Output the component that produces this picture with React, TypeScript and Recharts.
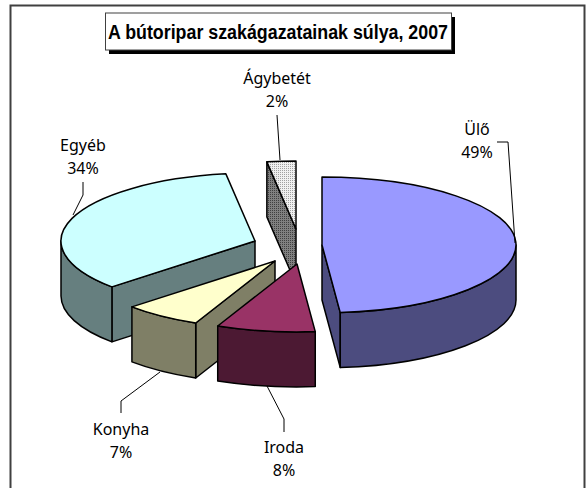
import { Pie, PieChart } from 'recharts';

const categories = ['Ágybetét', 'Egyéb', 'Konyha', 'Iroda', 'Ülő'];
// a címkék kerekített százalékok, a szeletek szögéből visszaolvasott értékek
const shares = [2.4, 34.4, 6.5, 8.2, 48.5];

const topColors = ['url(#dotsLight)', '#CCFFFF', '#FFFFCC', '#993366', '#9999FF'];
const sideColors = ['url(#dotsDark)', '#667F7F', '#7F7F66', '#4C1933', '#4C4C7F'];

// robbantott szeletek eltolása a kör középpontjához képest
const explode = [
  [2, -16],
  [-39, -4],
  [-19, 16],
  [3, 19],
  [28, 0],
];

// kézzel elhelyezett feliratok és vezetővonalak, mint az Excel ábrán
const labelLayout = [
  { x: 277, y: 78, line: '277,115 280,160' },
  { x: 83, y: 145, line: '83,182 83,195 73,215' },
  { x: 121, y: 429, line: '121,413 121,401 160,372' },
  { x: 284, y: 447, line: '284,432 284,419 267,386' },
  { x: 477, y: 129, line: '497,142 508,142 515,243' },
];

const TILT = 0.35;
const DEPTH = 55;
const LABEL_FONT = '"Noto Sans", sans-serif';

const tableData = categories.map((name, i) => ({ name, value: shares[i] }));

function Slice3D(props: any) {
  const { cx, cy, outerRadius: r, startAngle, endAngle, index } = props;
  const a1 = Math.min(startAngle, endAngle);
  const a2 = Math.max(startAngle, endAngle);
  const [dx, dy] = explode[index];
  const ax = cx + dx;
  const ay = cy + dy;
  const ry = r * TILT;
  const pt = (deg: number) => {
    const rad = (deg * Math.PI) / 180;
    return [ax + r * Math.cos(rad), ay - ry * Math.sin(rad)];
  };
  const [sx, sy] = pt(a1);
  const [ex, ey] = pt(a2);
  const large = a2 - a1 > 180 ? 1 : 0;
  const top = `M${ax},${ay} L${sx},${sy} A${r},${ry} 0 ${large} 0 ${ex},${ey} Z`;

  // falak: csak a néző felé forduló oldallapokat rajzoljuk
  const wall = (x: number, y: number) =>
    `M${ax},${ay} L${x},${y} L${x},${y + DEPTH} L${ax},${ay + DEPTH} Z`;
  const wall1 = Math.cos((a1 * Math.PI) / 180) > 0.001;
  const wall2 = Math.cos((a2 * Math.PI) / 180) < -0.001;

  // külső palást az elülső félkörön (180..360 fok)
  const r1 = Math.max(a1, 180);
  const r2 = Math.min(a2, 360);
  let rim = '';
  if (r2 > r1) {
    const [p1x, p1y] = pt(r1);
    const [p2x, p2y] = pt(r2);
    rim = `M${p1x},${p1y} A${r},${ry} 0 0 0 ${p2x},${p2y} L${p2x},${p2y + DEPTH} A${r},${ry} 0 0 1 ${p1x},${p1y + DEPTH} Z`;
  }

  const stroke = { stroke: '#000', strokeWidth: 1.5, strokeLinejoin: 'round' as const };
  const side = sideColors[index];
  return (
    <g>
      {wall1 && <path d={wall(sx, sy)} fill={side} {...stroke} />}
      {wall2 && <path d={wall(ex, ey)} fill={side} {...stroke} />}
      {rim && <path d={rim} fill={side} {...stroke} />}
      <path d={top} fill={topColors[index]} {...stroke} />
    </g>
  );
}

function SliceLabel(props: any) {
  const { index, percent, name } = props;
  const pos = labelLayout[index];
  return (
    <g>
      <polyline points={pos.line} fill="none" stroke="#000" strokeWidth={1} />
      <text x={pos.x} y={pos.y} textAnchor="middle" dominantBaseline="central" fontFamily={LABEL_FONT} fontSize={16} fill="#000">
        {name}
      </text>
      <text x={pos.x} y={pos.y + 23} textAnchor="middle" dominantBaseline="central" fontFamily={LABEL_FONT} fontSize={16} fill="#000">
        {`${Math.round(percent * 100)}%`}
      </text>
    </g>
  );
}

export default function App() {
  return (
    <div style={{ position: 'absolute', left: 0, top: 0, width: 586, height: 488, overflow: 'hidden', background: '#fff' }}>
      <PieChart width={586} height={488} margin={{ top: 0, right: 0, bottom: 0, left: 0 }}>
        <defs>
          <pattern id="dotsLight" width="2" height="2" patternUnits="userSpaceOnUse">
            <rect width="2" height="2" fill="#F0F0F0" />
            <rect width="1" height="1" fill="#A0A0A0" />
          </pattern>
          <pattern id="dotsDark" width="2" height="2" patternUnits="userSpaceOnUse">
            <rect width="2" height="2" fill="#808080" />
            <rect width="1" height="1" fill="#404040" />
          </pattern>
        </defs>
        <rect x={10.5} y={5.5} width={574} height={490} fill="#fff" stroke="#404040" strokeWidth={2} />
        <rect x={109} y={17} width={346} height={37} fill="#000" />
        <rect x={105.5} y={13} width={346} height={37} fill="#fff" stroke="#404040" strokeWidth={1} />
        <text x={278} y={32} textAnchor="middle" dominantBaseline="central" fontFamily='"Liberation Sans", sans-serif' fontWeight="bold" fontSize={20} textLength={340} lengthAdjust="spacingAndGlyphs" fill="#000">
          A bútoripar szakágazatainak súlya, 2007
        </text>
        <Pie
          data={tableData}
          dataKey="value"
          nameKey="name"
          cx={294}
          cy={245}
          outerRadius={194}
          startAngle={90}
          endAngle={450}
          paddingAngle={0}
          shape={Slice3D}
          label={SliceLabel}
          labelLine={false}
          isAnimationActive={false}
        />
      </PieChart>
    </div>
  );
}
